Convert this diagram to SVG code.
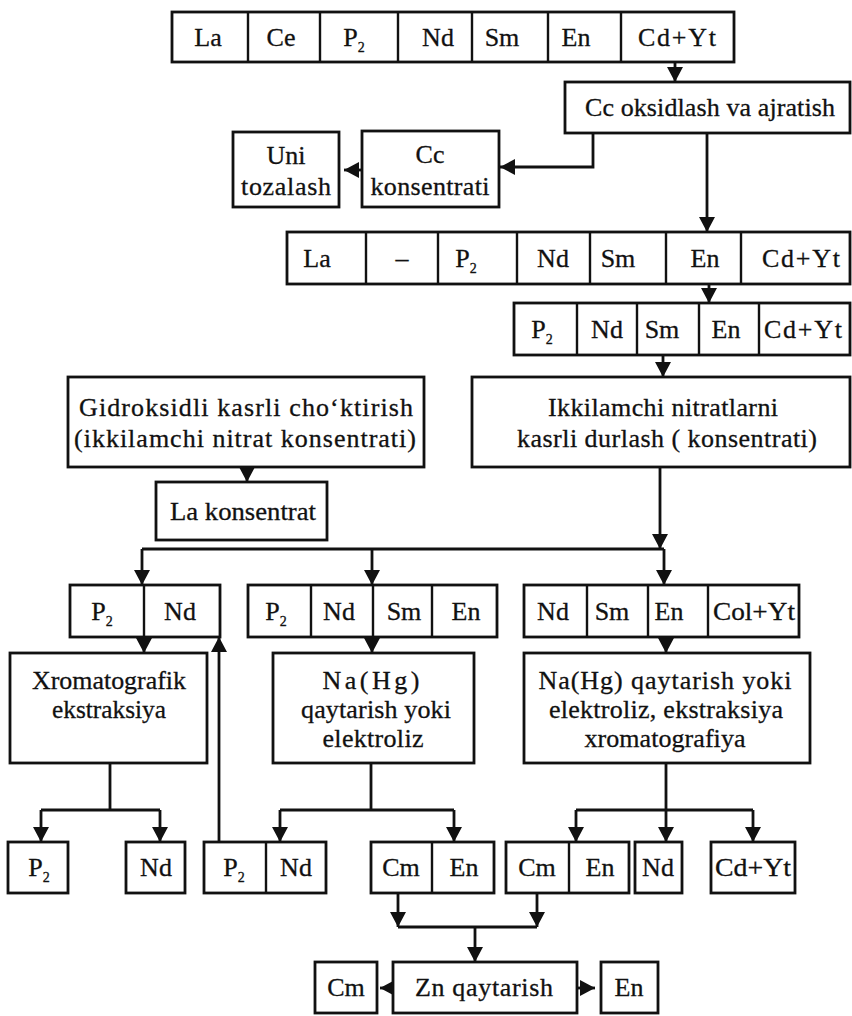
<svg xmlns="http://www.w3.org/2000/svg" width="852" height="1016" viewBox="0 0 852 1016">
<style>
.box{fill:#fff;stroke:#111;stroke-width:2.8}
.div{stroke:#111;stroke-width:2.4}
.t{font-family:"Liberation Serif","Times New Roman",serif;font-size:26px;fill:#111;stroke:#111;stroke-width:0.3;text-anchor:middle}
.c{fill:none;stroke:#111;stroke-width:2.8}
.s{font-size:14px}
</style>
<defs>
<marker id="ah" markerUnits="userSpaceOnUse" markerWidth="15" markerHeight="16" refX="15" refY="8" orient="auto">
<path d="M0,0 L15,8 L0,16 z" fill="#111"/>
</marker>
</defs>
<rect width="852" height="1016" fill="#fff"/>

<g id="connectors">
<path class="c" d="M675,62 V82" marker-end="url(#ah)"/>
<path class="c" d="M593,133 V167 H500" marker-end="url(#ah)"/>
<path class="c" d="M362,170 H344" marker-end="url(#ah)"/>
<path class="c" d="M707,133 V232" marker-end="url(#ah)"/>
<path class="c" d="M709,284 V303" marker-end="url(#ah)"/>
<path class="c" d="M663,355 V377" marker-end="url(#ah)"/>
<path class="c" d="M247,467 V482" marker-end="url(#ah)"/>
<path class="c" d="M660,467 V549" marker-end="url(#ah)"/>
<path class="c" d="M142,549 H664"/>
<path class="c" d="M142,549 V585" marker-end="url(#ah)"/>
<path class="c" d="M372,549 V585" marker-end="url(#ah)"/>
<path class="c" d="M664,549 V585" marker-end="url(#ah)"/>
<path class="c" d="M144,637 V653" marker-end="url(#ah)"/>
<path class="c" d="M372,637 V653" marker-end="url(#ah)"/>
<path class="c" d="M666,637 V653" marker-end="url(#ah)"/>
<path class="c" d="M219,842 V637" marker-end="url(#ah)"/>
<path class="c" d="M110,763 V810 M41,810 H160"/>
<path class="c" d="M41,810 V842" marker-end="url(#ah)"/>
<path class="c" d="M160,810 V842" marker-end="url(#ah)"/>
<path class="c" d="M371,763 V810 M280,810 H454"/>
<path class="c" d="M280,810 V842" marker-end="url(#ah)"/>
<path class="c" d="M454,810 V842" marker-end="url(#ah)"/>
<path class="c" d="M666,763 V810 M576,810 H753"/>
<path class="c" d="M576,810 V842" marker-end="url(#ah)"/>
<path class="c" d="M666,810 V842" marker-end="url(#ah)"/>
<path class="c" d="M753,810 V842" marker-end="url(#ah)"/>
<path class="c" d="M398,893 V927" marker-end="url(#ah)"/>
<path class="c" d="M537,893 V927" marker-end="url(#ah)"/>
<path class="c" d="M398,927 H537"/>
<path class="c" d="M475,927 V962" marker-end="url(#ah)"/>
<path class="c" d="M393,988 H380" marker-end="url(#ah)"/>
<path class="c" d="M577,988 H595" marker-end="url(#ah)"/>
</g>

<g id="top-row">
<rect class="box" x="172" y="12" width="562" height="50"/>
<path class="div" d="M248,12V62M320,12V62M398,12V62M472,12V62M548,12V62M621,12V62"/>
<text class="t" x="208" y="46">La</text>
<text class="t" x="281" y="46">Ce</text>
<text class="t" x="354" y="46">P<tspan class="s" dy="6">2</tspan></text>
<text class="t" x="438" y="46">Nd</text>
<text class="t" x="502" y="46">Sm</text>
<text class="t" x="576" y="46">En</text>
<text class="t" x="677" y="46" textLength="78" lengthAdjust="spacing">Cd+Yt</text>
</g>

<g id="ce-oxidation">
<rect class="box" x="565" y="82" width="285" height="51"/>
<text class="t" x="710" y="116" textLength="250" lengthAdjust="spacing">Cc oksidlash va ajratish</text>
</g>

<g id="uni-tozalash">
<rect class="box" x="233" y="132" width="106" height="75"/>
<text class="t" x="286" y="164">Uni</text>
<text class="t" x="286" y="195" textLength="90" lengthAdjust="spacing">tozalash</text>
</g>

<g id="ce-konsentrati">
<rect class="box" x="362" y="131" width="137" height="76"/>
<text class="t" x="430" y="163">Cc</text>
<text class="t" x="430" y="195" textLength="119" lengthAdjust="spacing">konsentrati</text>
</g>

<g id="row2">
<rect class="box" x="287" y="232" width="563" height="52"/>
<path class="div" d="M366,232V284M438,232V284M517,232V284M590,232V284M666,232V284M741,232V284"/>
<text class="t" x="317" y="267">La</text>
<text class="t" x="402" y="267">–</text>
<text class="t" x="466" y="267">P<tspan class="s" dy="6">2</tspan></text>
<text class="t" x="553" y="267">Nd</text>
<text class="t" x="618" y="267">Sm</text>
<text class="t" x="705" y="267">En</text>
<text class="t" x="801" y="267" textLength="78" lengthAdjust="spacing">Cd+Yt</text>
</g>

<g id="row3">
<rect class="box" x="514" y="303" width="336" height="52"/>
<path class="div" d="M577,303V355M637,303V355M699,303V355M759,303V355"/>
<text class="t" x="542" y="338">P<tspan class="s" dy="6">2</tspan></text>
<text class="t" x="607" y="338">Nd</text>
<text class="t" x="662" y="338">Sm</text>
<text class="t" x="726" y="338">En</text>
<text class="t" x="803" y="338" textLength="78" lengthAdjust="spacing">Cd+Yt</text>
</g>

<g id="gidroksidli">
<rect class="box" x="68" y="377" width="356" height="90"/>
<text class="t" x="246" y="416" textLength="334" lengthAdjust="spacing">Gidroksidli kasrli cho‘ktirish</text>
<text class="t" x="245" y="447" textLength="342" lengthAdjust="spacing">(ikkilamchi nitrat konsentrati)</text>
</g>

<g id="ikkilamchi">
<rect class="box" x="472" y="377" width="378" height="90"/>
<text class="t" x="663" y="416" textLength="230" lengthAdjust="spacing">Ikkilamchi nitratlarni</text>
<text class="t" x="667" y="447" textLength="300" lengthAdjust="spacing">kasrli durlash ( konsentrati)</text>
</g>

<g id="la-konsentrat">
<rect class="box" x="156" y="482" width="171" height="58"/>
<text class="t" x="243" y="520" textLength="146" lengthAdjust="spacingAndGlyphs">La konsentrat</text>
</g>

<g id="branch1">
<rect class="box" x="70" y="585" width="150" height="52"/>
<path class="div" d="M144,585V637"/>
<text class="t" x="102" y="620">P<tspan class="s" dy="6">2</tspan></text>
<text class="t" x="180" y="620">Nd</text>
</g>

<g id="branch2">
<rect class="box" x="248" y="585" width="249" height="52"/>
<path class="div" d="M311,585V637M373,585V637M432,585V637"/>
<text class="t" x="276" y="620">P<tspan class="s" dy="6">2</tspan></text>
<text class="t" x="339" y="620">Nd</text>
<text class="t" x="404" y="620">Sm</text>
<text class="t" x="466" y="620">En</text>
</g>

<g id="branch3">
<rect class="box" x="524" y="585" width="275" height="52"/>
<path class="div" d="M587,585V637M648,585V637M708,585V637"/>
<text class="t" x="553" y="620">Nd</text>
<text class="t" x="612" y="620">Sm</text>
<text class="t" x="669" y="620">En</text>
<text class="t" x="754" y="620" textLength="82" lengthAdjust="spacingAndGlyphs">Col+Yt</text>
</g>

<g id="xromatografik">
<rect class="box" x="10" y="653" width="197" height="110"/>
<text class="t" x="109" y="689" textLength="154" lengthAdjust="spacingAndGlyphs">Xromatografik</text>
<text class="t" x="109" y="718" textLength="114" lengthAdjust="spacingAndGlyphs">ekstraksiya</text>
</g>

<g id="nahg-1">
<rect class="box" x="273" y="653" width="201" height="110"/>
<text class="t" x="371" y="689" textLength="97" lengthAdjust="spacing">Na(Hg)</text>
<text class="t" x="376" y="718" textLength="150" lengthAdjust="spacing">qaytarish yoki</text>
<text class="t" x="373" y="747" textLength="101" lengthAdjust="spacing">elektroliz</text>
</g>

<g id="nahg-2">
<rect class="box" x="524" y="653" width="286" height="110"/>
<text class="t" x="665" y="689" textLength="253" lengthAdjust="spacing">Na(Hg) qaytarish yoki</text>
<text class="t" x="666" y="718" textLength="234" lengthAdjust="spacing">elektroliz, ekstraksiya</text>
<text class="t" x="665" y="747" textLength="161" lengthAdjust="spacing">xromatografiya</text>
</g>

<g id="out-p2">
<rect class="box" x="8" y="842" width="60" height="51"/>
<text class="t" x="39" y="876">P<tspan class="s" dy="6">2</tspan></text>
</g>
<g id="out-nd">
<rect class="box" x="126" y="842" width="59" height="51"/>
<text class="t" x="156" y="876">Nd</text>
</g>
<g id="out-p2-nd">
<rect class="box" x="204" y="842" width="122" height="51"/>
<path class="div" d="M266,842V893"/>
<text class="t" x="234" y="876">P<tspan class="s" dy="6">2</tspan></text>
<text class="t" x="296" y="876">Nd</text>
</g>
<g id="out-cm-en-1">
<rect class="box" x="371" y="842" width="123" height="51"/>
<path class="div" d="M432,842V893"/>
<text class="t" x="401" y="876">Cm</text>
<text class="t" x="464" y="876">En</text>
</g>
<g id="out-cm-en-2">
<rect class="box" x="506" y="842" width="123" height="51"/>
<path class="div" d="M569,842V893"/>
<text class="t" x="537" y="876">Cm</text>
<text class="t" x="600" y="876">En</text>
</g>
<g id="out-nd-2">
<rect class="box" x="635" y="842" width="47" height="51"/>
<text class="t" x="658" y="876">Nd</text>
</g>
<g id="out-cd-yt">
<rect class="box" x="711" y="842" width="84" height="51"/>
<text class="t" x="753" y="876" textLength="76" lengthAdjust="spacingAndGlyphs">Cd+Yt</text>
</g>

<g id="zn-qaytarish">
<rect class="box" x="393" y="962" width="184" height="51"/>
<text class="t" x="484" y="996" textLength="138" lengthAdjust="spacing">Zn qaytarish</text>
</g>
<g id="final-cm">
<rect class="box" x="315" y="962" width="62" height="51"/>
<text class="t" x="346" y="996">Cm</text>
</g>
<g id="final-en">
<rect class="box" x="601" y="962" width="57" height="51"/>
<text class="t" x="629" y="996">En</text>
</g>
</svg>
